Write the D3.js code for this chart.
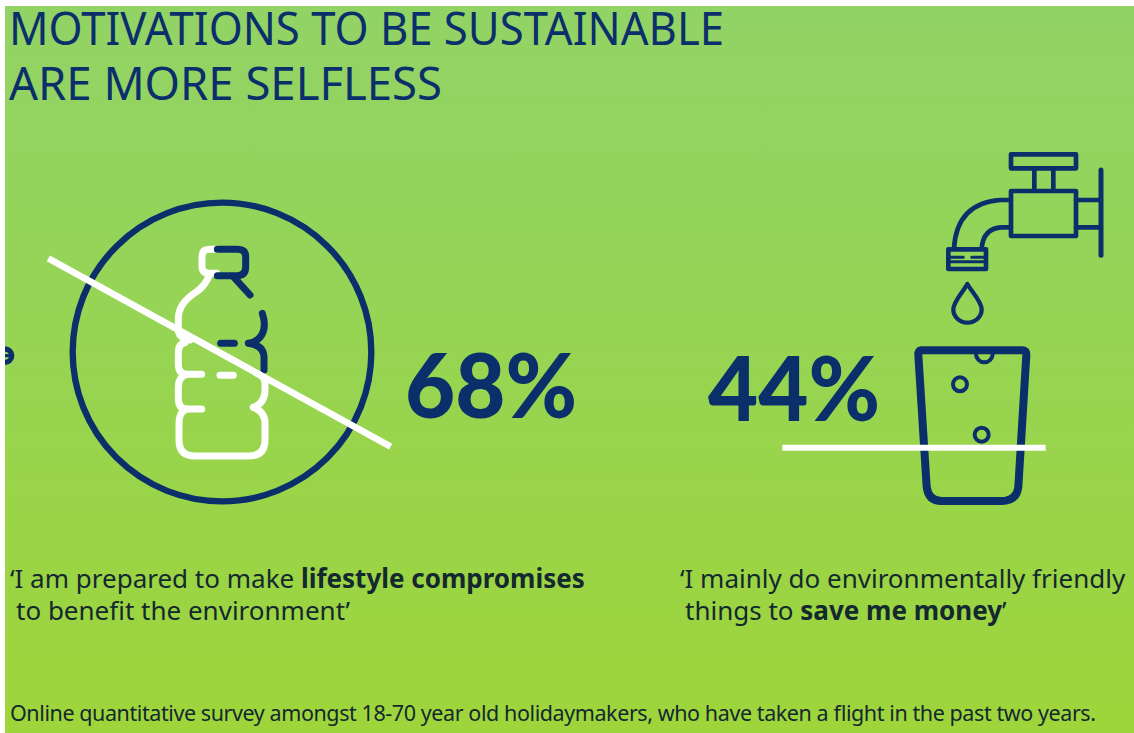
<!DOCTYPE html>
<html>
<head>
<meta charset="utf-8">
<script src="https://cdn.jsdelivr.net/npm/d3@7"></script>
<style>
html,body{margin:0;padding:0;background:#fff}
svg{display:block}
text{font-family:"Noto Sans",sans-serif}
</style>
</head>
<body>
<svg id="chart" width="1134" height="733"></svg>
<script>
const titleLines = ["MOTIVATIONS TO BE SUSTAINABLE", "ARE MORE SELFLESS"];
const percentValues = [68, 44];
const statementLines = [
  [[["\u2018I am prepared to make ", 0], ["lifestyle compromises", 1]], [["to benefit the environment\u2019", 0]]],
  [[["\u2018I mainly do environmentally friendly", 0]], [["things to ", 0], ["save me money", 1], ["\u2019", 0]]]
];
const footnote = "Online quantitative survey amongst 18-70 year old holidaymakers, who have taken a flight in the past two years.";

const NAVY = "#0b2f6b", WHITE = "#ffffff", INK = "#14282f";
const svg = d3.select("#chart");

// Panel background
const defs = svg.append("defs");
const grad = defs.append("linearGradient").attr("id", "panelFill").attr("x1", 0).attr("y1", 0).attr("x2", 0).attr("y2", 1);
grad.append("stop").attr("offset", "0%").attr("stop-color", "#92d366");
grad.append("stop").attr("offset", "35%").attr("stop-color", "#95d458");
grad.append("stop").attr("offset", "100%").attr("stop-color", "#9ed53a");
defs.append("clipPath").attr("id", "panelClip").append("rect").attr("x", 5).attr("y", 6).attr("width", 1129).attr("height", 727);
const panel = svg.append("g").attr("clip-path", "url(#panelClip)");
panel.append("rect").attr("x", 5).attr("y", 6).attr("width", 1129).attr("height", 727).attr("fill", "url(#panelFill)");

// Title
panel.selectAll("text.title").data(titleLines).join("text")
  .attr("class", "title").attr("x", 9).attr("y", (d, i) => 45 + i * 55)
  .attr("font-size", 46).attr("font-weight", 400).attr("fill", NAVY)
  .attr("textLength", (d, i) => [715, 433][i]).attr("lengthAdjust", "spacingAndGlyphs")
  .text(d => d);

// Stroke helper for the icon groups
function stroke(g, d, color, w) {
  return g.append("path").attr("d", d).attr("fill", "none").attr("stroke", color)
    .attr("stroke-width", w).attr("stroke-linecap", "round").attr("stroke-linejoin", "round");
}

// Bottle icon
const left = panel.append("g").attr("transform", "translate(0,190) scale(0.33333)");
left.append("circle").attr("cx", 15).attr("cy", 497).attr("r", 20).attr("fill", "none").attr("stroke", NAVY).attr("stroke-width", 16);
left.append("path").attr("d", "M15 497H30").attr("stroke", NAVY).attr("stroke-width", 9);
left.append("circle").attr("cx", 666).attr("cy", 486).attr("r", 448).attr("fill", "none").attr("stroke", NAVY).attr("stroke-width", 19);
const bottleW = 21;
stroke(left, "M650 178H628Q606 178 606 200V228Q606 250 628 250H650", WHITE, bottleW);
stroke(left, "M628 254Q618 285 590 305Q535 340 535 385V425Q540 445 570 450", WHITE, bottleW);
stroke(left, "M555 458Q535 460 535 490V520Q535 553 560 553H605", WHITE, bottleW);
stroke(left, "M560 553Q535 560 535 590V625Q535 657 560 657H605", WHITE, bottleW);
stroke(left, "M560 657Q537 665 537 700V750Q537 798 585 798H745Q795 798 795 750V700Q795 665 760 652", WHITE, bottleW);
stroke(left, "M760 652Q795 640 795 600V580Q795 560 770 550", WHITE, bottleW);
stroke(left, "M660 556H700", WHITE, bottleW);
stroke(left, "M652 178H712Q737 178 737 200V232Q737 257 712 257H652", NAVY, bottleW);
stroke(left, "M702 262L750 315", NAVY, bottleW);
stroke(left, "M787 370Q800 410 785 435Q770 458 745 460Q790 465 792 500V540", NAVY, bottleW);
stroke(left, "M662 460H703", NAVY, bottleW);
left.append("path").attr("d", "M145 205L1172 770").attr("stroke", WHITE).attr("stroke-width", 20).attr("fill", "none");

// Tap and glass icon
const right = panel.append("g").attr("transform", "translate(700,140) scale(0.33333)");
const tapW = 14;
stroke(right, "M933 43H1128V85H933Z", NAVY, tapW);
stroke(right, "M1003 85V150M1060 85V150", NAVY, tapW);
stroke(right, "M933 153H1128V288H933Z", NAVY, tapW);
stroke(right, "M1128 180H1203M1128 262H1203", NAVY, tapW);
stroke(right, "M1203 90V346", NAVY, 15);
stroke(right, "M933 180H900Q770 190 762 325M933 262H905Q850 265 845 325", NAVY, tapW);
stroke(right, "M745 328H858V387H745Z", NAVY, tapW);
stroke(right, "M745 352H790M858 352H815M750 365H852", NAVY, 9);
stroke(right, "M802 432C790 455 760 485 760 508C760 532 780 548 802 548C825 548 845 532 845 508C845 485 815 455 802 432Z", NAVY, 13);
stroke(right, "M665 631H968Q980 631 979 645L955 1040Q950 1083 905 1083H725Q685 1083 680 1040L655 645Q654 631 665 631Z", NAVY, 24);
stroke(right, "M828 642A25 25 0 0 0 878 642", NAVY, 12);
right.append("circle").attr("cx", 780).attr("cy", 733).attr("r", 21).attr("fill", "none").attr("stroke", NAVY).attr("stroke-width", 12);
right.append("circle").attr("cx", 845).attr("cy", 884).attr("r", 21).attr("fill", "none").attr("stroke", NAVY).attr("stroke-width", 12);
right.append("path").attr("d", "M247 923H1037").attr("stroke", WHITE).attr("stroke-width", 18);

// Percent figures
panel.selectAll("text.pct").data(percentValues).join("text")
  .attr("class", "pct")
  .attr("x", (d, i) => [405, 708][i]).attr("y", (d, i) => [418, 421][i])
  .attr("font-size", 90).attr("font-weight", 900).style("font-family", "Lato, sans-serif").attr("fill", NAVY)
  .attr("textLength", 172).attr("lengthAdjust", "spacingAndGlyphs")
  .text(d => d + "%");

// Statements below the icons
const statementX = [[10, 16], [680, 685]];
statementLines.forEach((lines, s) => {
  lines.forEach((runs, l) => {
    const t = panel.append("text").attr("x", statementX[s][l]).attr("y", 588 + l * 32)
      .attr("font-size", 26).attr("fill", INK);
    runs.forEach(r => t.append("tspan").attr("font-weight", r[1] ? 700 : 400).text(r[0]));
  });
});

// Survey note
panel.append("text").attr("x", 10).attr("y", 721).attr("font-size", 21.5).attr("fill", INK)
  .attr("textLength", 1086).attr("lengthAdjust", "spacing").text(footnote);
</script>
</body>
</html>
